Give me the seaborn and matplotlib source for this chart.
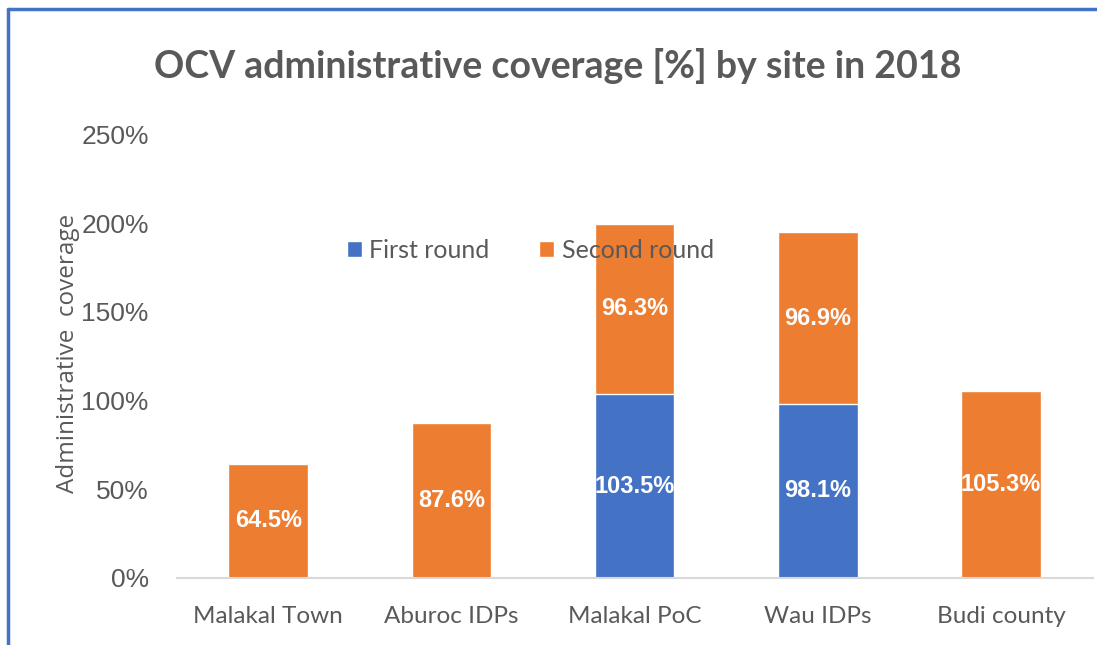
import seaborn as sns
import pandas as pd
import matplotlib.pyplot as plt
from matplotlib.lines import Line2D

sites = ['Malakal Town', 'Aburoc IDPs', 'Malakal PoC', 'Wau IDPs', 'Budi county']
first_round = [0, 0, 103.5, 98.1, 0]
second_round = [64.5, 87.6, 96.3, 96.9, 105.3]
yticks = [0, 50, 100, 150, 200, 250]

blue = '#4472C4'
orange = '#ED7D31'
grey = '#595959'

sns.set_style('white')
plt.rcParams['font.family'] = ['Lato', 'DejaVu Sans']

df = pd.DataFrame(dict(site=sites, first=first_round, second=second_round))
df['total'] = df['first'] + df['second']

fig = plt.figure(figsize=(10.97, 6.45), dpi=100)
ax = fig.add_axes([0.161, 0.1039, 0.835, 0.6876])

# total first, then first round on top of it (stacked look)
sns.barplot(data=df, x='site', y='total', color=orange, width=0.435,
            saturation=1, ax=ax, label='Second round')
sns.barplot(data=df, x='site', y='first', color=blue, width=0.435,
            saturation=1, ax=ax, label='First round')

ax.set_ylim(0, 250)
ax.set_yticks(yticks)
ax.set_yticklabels([f'{t}%' for t in yticks], fontsize=19, color=grey,
                   family=['Liberation Sans', 'DejaVu Sans'])
ax.tick_params(axis='x', labelsize=17.5, labelcolor=grey, length=0, pad=20)
ax.tick_params(axis='y', length=0, pad=20)
ax.set_xlabel(None)
ax.set_ylabel('Administrative  coverage', fontsize=17.5, color=grey,
              family=['Open Sans', 'DejaVu Sans'])
ax.yaxis.set_label_coords(-0.106, 0.507)
for s in ['top', 'right', 'left']:
    ax.spines[s].set_visible(False)
ax.spines['bottom'].set_color('#D9D9D9')
ax.spines['bottom'].set_linewidth(1.5)

n = len(sites)
orange_bars = ax.patches[:n]
for i in range(n):
    ob = orange_bars[i]
    cx = ob.get_x() + ob.get_width() / 2
    if first_round[i] > 0:
        ax.text(cx, first_round[i] / 2, f'{first_round[i]:.1f}%', ha='center', va='center',
                color='white', fontsize=17, fontweight='bold',
                family=['Liberation Sans', 'DejaVu Sans'])
    ax.text(cx, first_round[i] + second_round[i] / 2, f'{second_round[i]:.1f}%',
            ha='center', va='center', color='white', fontsize=17, fontweight='bold',
            family=['Liberation Sans', 'DejaVu Sans'])

handles, labels = ax.get_legend_handles_labels()
order = [labels.index('First round'), labels.index('Second round')]
leg = ax.legend([handles[i] for i in order], [labels[i] for i in order],
                loc='center', bbox_to_anchor=(0.386, 0.738), ncol=2, frameon=False,
                fontsize=18, handlelength=0.6, handleheight=0.6, handletextpad=0.3,
                columnspacing=2.0)
for t in leg.get_texts():
    t.set_color(grey)

fig.text(0.508, 0.898, 'OCV administrative coverage [%] by site in 2018', ha='center',
         va='center', fontsize=27, fontweight='bold', color=grey)

# blue chart frame on the left and top
fig.add_artist(Line2D([8 / 1097, 8 / 1097], [0, 1 - 9 / 645], transform=fig.transFigure,
                      color=blue, linewidth=2.5))
fig.add_artist(Line2D([8 / 1097, 1], [1 - 9 / 645, 1 - 9 / 645], transform=fig.transFigure,
                      color=blue, linewidth=2.5))

fig.savefig('out.png', dpi=100)
